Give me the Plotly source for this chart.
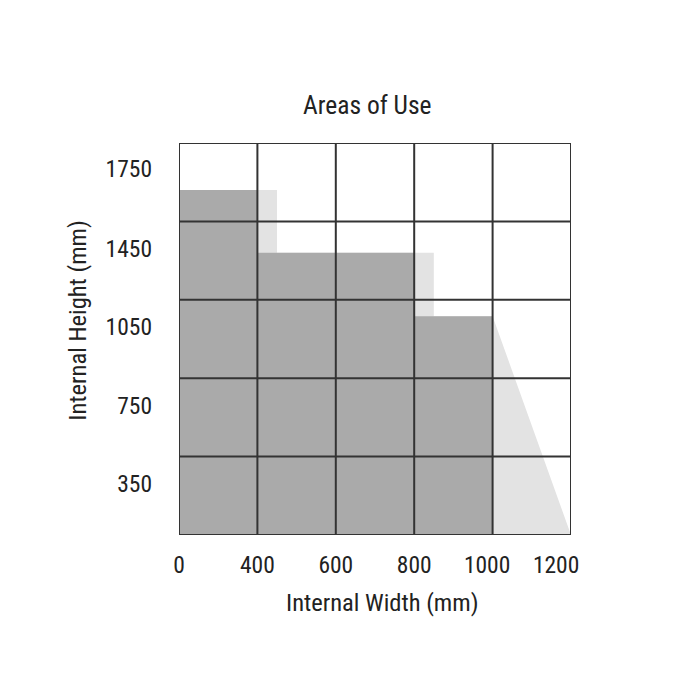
import plotly.graph_objects as go

# ---- data (axis in grid-cell units: 5 columns x 5 rows) ----
width_labels = ["0", "400", "600", "800", "1000", "1200"]
width_label_pos = [0, 1, 2, 3, 3.93, 4.81]
height_labels = ["350", "750", "1050", "1450", "1750"]
height_label_pos = [0.65, 1.65, 2.65, 3.65, 4.67]

col_edges = [0, 1, 2, 3, 4]
dark_heights = [4.40, 3.60, 3.60, 2.79]

light_x = [0, 0, 1.25, 1.25, 3.25, 3.25, 4.0, 5.0, 0]
light_y = [0, 4.40, 4.40, 3.60, 3.60, 2.79, 2.79, 0, 0]

grid_pos = [0, 1, 2, 3, 4, 5]

FONT = "Roboto Condensed, Liberation Sans Narrow, Liberation Sans, Arial, sans-serif"
TXT = "#222222"

# step outline of the dark region, built from the column heights
dark_x, dark_y = [col_edges[0]], [0]
for i, h in enumerate(dark_heights):
    dark_x += [col_edges[i], col_edges[i + 1]]
    dark_y += [h, h]
dark_x += [col_edges[-1], col_edges[0]]
dark_y += [0, 0]

fig = go.Figure()
fig.add_trace(go.Scatter(x=light_x, y=light_y, mode="lines", fill="toself",
                         fillcolor="#e3e3e3", line=dict(width=0), hoverinfo="skip",
                         showlegend=False))
fig.add_trace(go.Scatter(x=dark_x, y=dark_y, mode="lines", fill="toself",
                         fillcolor="#aaaaaa", line=dict(width=0), hoverinfo="skip",
                         showlegend=False))

for g in grid_pos:
    fig.add_shape(type="line", xref="x", yref="y", x0=g, x1=g, y0=0, y1=5,
                  line=dict(color="#333333", width=2), layer="above")
    fig.add_shape(type="line", xref="x", yref="y", x0=0, x1=5, y0=g, y1=g,
                  line=dict(color="#333333", width=2), layer="above")

fig.update_layout(
    width=700, height=700,
    margin=dict(l=171, r=137, t=135, b=173),
    paper_bgcolor="white", plot_bgcolor="white",
    font=dict(family=FONT, size=25, color=TXT),
    xaxis=dict(range=[0, 5], showgrid=False, zeroline=False, showline=False,
               tickvals=width_label_pos, ticktext=width_labels, ticks="",
               ticklabelstandoff=13, tickfont=dict(size=23.5, color=TXT, family=FONT)),
    yaxis=dict(range=[0, 5], showgrid=False, zeroline=False, showline=False,
               tickvals=height_label_pos, ticktext=height_labels, ticks="",
               ticklabelstandoff=26, tickfont=dict(size=23.5, color=TXT, family=FONT)),
    annotations=[
        dict(text="Areas of Use", xref="paper", yref="paper", x=0.482, y=1.097,
             xanchor="center", yanchor="middle", showarrow=False, font=dict(size=25.5)),
        dict(text="Internal Width (mm)", xref="paper", yref="paper", x=0.52, y=-0.173,
             xanchor="center", yanchor="middle", showarrow=False, font=dict(size=24.5)),
        dict(text="Internal Height (mm)", xref="paper", yref="paper", x=-0.259, y=0.548,
             xanchor="center", yanchor="middle", textangle=-90, showarrow=False,
             font=dict(size=24.5)),
    ],
)

fig.write_html("out.html")
